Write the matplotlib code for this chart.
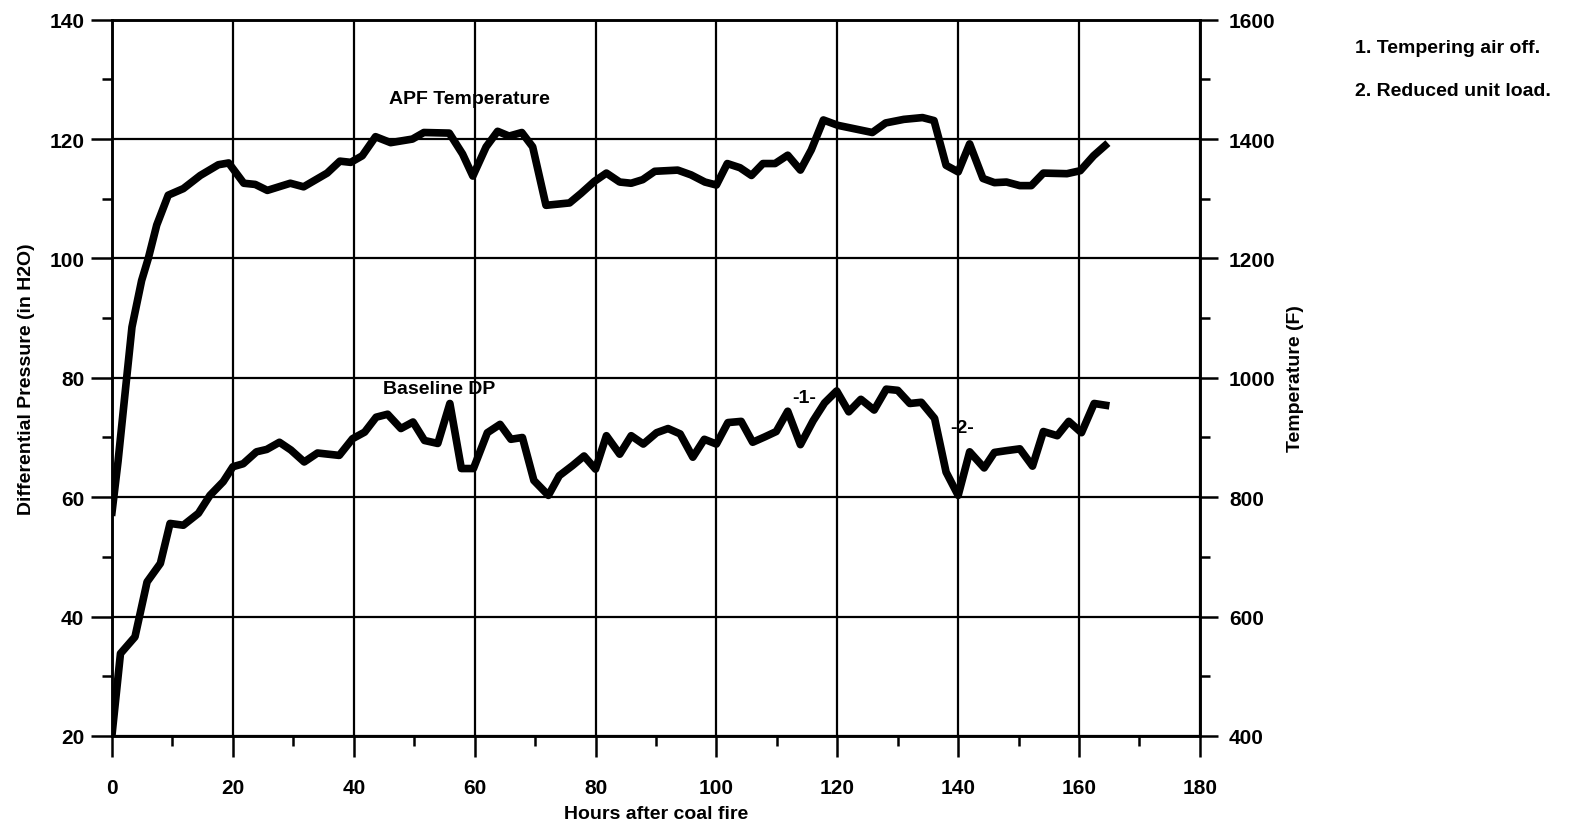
import matplotlib
matplotlib.use("Agg")
import matplotlib.pyplot as plt
from matplotlib.ticker import MultipleLocator

plt.rcParams['font.family'] = ['Liberation Sans', 'DejaVu Sans']
plt.rcParams['font.weight'] = 'bold'
plt.rcParams['axes.labelweight'] = 'bold'

# Baseline differential pressure (in H2O) vs hours after coal fire
dp_hours = [0, 1.4, 3.8, 5.8, 8.0, 9.6, 11.8, 14.3, 16.2, 18.4, 20, 21.7, 23.9, 25.6,
            27.7, 29.6, 31.8, 34.0, 37.6, 39.8, 41.8, 43.7, 45.6, 47.8, 49.8, 51.7,
            53.9, 55.9, 57.8, 59.8, 62.1, 64.2, 66, 67.9, 69.8, 72.2, 74, 76.2, 78.1,
            80, 81.8, 84, 85.9, 87.9, 90.1, 92, 94, 96.1, 98, 100, 101.9, 104.1, 106,
            108, 109.9, 111.8, 113.9, 116, 117.9, 119.9, 121.9, 123.9, 126.1, 128.1,
            130, 132, 133.9, 136.1, 138, 140, 141.9, 144.3, 146, 148, 150.2, 152.3,
            154.1, 156.4, 158.3, 160.4, 162.5, 164.4]
dp_values = [20.2, 33.8, 36.6, 45.8, 48.9, 55.6, 55.3, 57.3, 60.3, 62.6, 65.1, 65.6,
             67.6, 68.0, 69.2, 67.9, 65.9, 67.4, 67.0, 69.8, 70.9, 73.4, 73.9, 71.5,
             72.6, 69.5, 69.0, 75.7, 64.8, 64.8, 70.8, 72.2, 69.7, 70.0, 62.8, 60.3,
             63.6, 65.3, 66.9, 64.7, 70.3, 67.2, 70.3, 68.9, 70.8, 71.5, 70.6, 66.7,
             69.7, 68.9, 72.5, 72.7, 69.2, 70.1, 71.0, 74.4, 68.8, 72.8, 75.8, 77.8,
             74.3, 76.4, 74.6, 78.1, 77.9, 75.7, 75.9, 73.2, 64.2, 60.3, 67.6, 64.9,
             67.5, 67.8, 68.1, 65.2, 71.0, 70.3, 72.7, 70.8, 75.7, 75.4]

# APF temperature (F) vs hours after coal fire
temp_hours = [0, 1, 2.2, 3.3, 4.9, 6.0, 7.4, 9.3, 11.8, 14.6, 17.6, 19.3, 21.8, 23.7,
              25.7, 29.5, 31.7, 35.6, 37.7, 39.5, 41.4, 43.6, 46.1, 49.7, 51.6, 55.8,
              58.0, 59.7, 61.9, 63.8, 65.7, 67.8, 69.6, 71.8, 75.7, 77.6, 79.8, 81.8,
              84.0, 85.9, 87.8, 89.8, 93.6, 95.8, 98.1, 100, 101.8, 103.9, 105.8,
              107.7, 109.7, 111.8, 113.9, 115.7, 117.7, 120.1, 125.8, 128, 131, 134.1,
              136, 138, 140, 141.9, 144.1, 146, 148, 150.2, 152.1, 154.1, 158, 160.2,
              162.4, 164.3]
temp_values = [775, 860, 978, 1085, 1163, 1200, 1256, 1306, 1317, 1339, 1357, 1360,
               1326, 1324, 1314, 1326, 1320, 1343, 1363, 1361, 1372, 1404, 1394, 1400,
               1411, 1410, 1375, 1338, 1387, 1413, 1405, 1411, 1387, 1289, 1293, 1309,
               1329, 1343, 1328, 1326, 1332, 1346, 1348, 1340, 1328, 1323, 1359, 1352,
               1339, 1359, 1359, 1373, 1348, 1382, 1432, 1423, 1411, 1427, 1433, 1436,
               1431, 1356, 1345, 1392, 1334, 1327, 1328, 1322, 1322, 1343, 1342, 1347,
               1372, 1389]

x_ticks = [0, 20, 40, 60, 80, 100, 120, 140, 160, 180]
dp_ticks = [20, 40, 60, 80, 100, 120, 140]
temp_ticks = [400, 600, 800, 1000, 1200, 1400, 1600]

fig = plt.figure(figsize=(15.71, 8.28), dpi=100)
ax = fig.add_axes([0.0713, 0.110, 0.6925, 0.865])
ax2 = ax.twinx()

ax.plot(dp_hours, dp_values, color='black', lw=5.5, solid_joinstyle='round', zorder=3)
ax2.plot(temp_hours, temp_values, color='black', lw=5.5, solid_joinstyle='round', zorder=3)

ax.set_xlim(0, 180)
ax.set_ylim(20, 140)
ax2.set_ylim(400, 1600)

ax.set_xticks(x_ticks)
ax.set_yticks(dp_ticks)
ax2.set_yticks(temp_ticks)
ax.xaxis.set_minor_locator(MultipleLocator(10))
ax.yaxis.set_minor_locator(MultipleLocator(10))
ax2.yaxis.set_minor_locator(MultipleLocator(100))

ax.grid(True, which='major', color='black', lw=1.6)
ax.set_axisbelow(True)

for a in (ax, ax2):
    for s in a.spines.values():
        s.set_linewidth(1.8)
ax.tick_params(axis='both', which='major', direction='out', length=15, width=1.8,
               labelsize=15)
ax.tick_params(axis='both', which='minor', direction='out', length=7, width=1.8)
ax.tick_params(axis='y', which='major', pad=5)
ax.tick_params(axis='x', which='major', pad=15)
ax2.tick_params(axis='y', which='major', direction='out', length=13, width=1.8,
                labelsize=15, pad=8)
ax2.tick_params(axis='y', which='minor', direction='out', length=7, width=1.8)

ax.set_xlabel('Hours after coal fire', fontsize=14, labelpad=6)
ax.set_ylabel('Differential Pressure (in H2O)', fontsize=14, labelpad=10)
ax2.set_ylabel('Temperature (F)', fontsize=14, labelpad=8)

ax.text(45.9, 126.8, 'APF Temperature', fontsize=14, ha='left', va='center')
ax.text(44.9, 78.2, 'Baseline DP', fontsize=14, ha='left', va='center')
ax.text(114.6, 76.7, '-1-', fontsize=14, ha='center', va='center')
ax.text(140.6, 71.6, '-2-', fontsize=14, ha='center', va='center')

fig.text(0.8625, 0.942, '1. Tempering air off.', fontsize=14, ha='left', va='center')
fig.text(0.8625, 0.890, '2. Reduced unit load.', fontsize=14, ha='left', va='center')

fig.savefig('out.png', dpi=100)
